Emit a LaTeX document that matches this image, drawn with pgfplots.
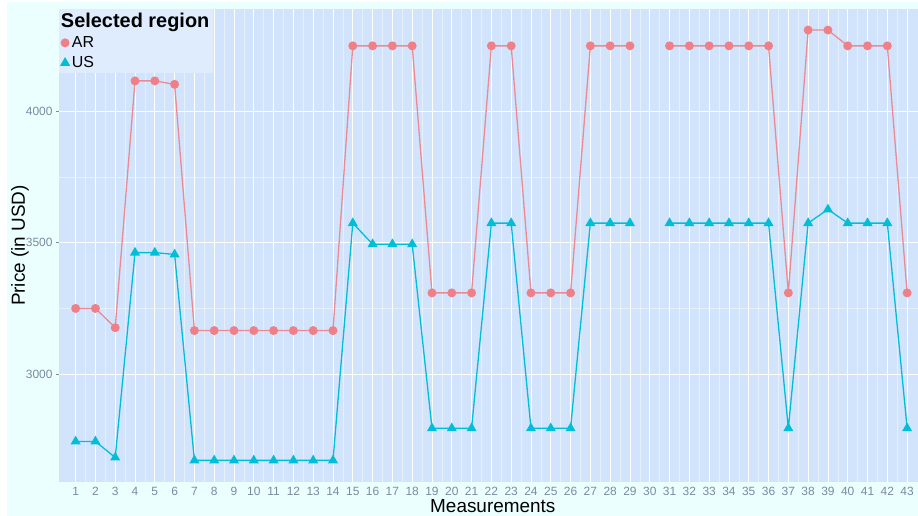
\documentclass[border=0pt]{standalone}
\usepackage{fontspec}
\setmainfont{Liberation Sans}
\usepackage{pgfplots}
\pgfplotsset{compat=1.18}
\usepackage{pgfplotstable}

\definecolor{outerbg}{RGB}{236,255,255}
\definecolor{panelbg}{RGB}{210,228,252}
\definecolor{legbg}{RGB}{222,236,253}
\definecolor{tickgray}{RGB}{125,138,158}
\definecolor{arcol}{RGB}{240,128,135}
\definecolor{arline}{RGB}{236,138,148}
\definecolor{uscol}{RGB}{0,190,214}

% price per measurement, 30 is missing
\pgfplotstableread{
x  ar   us
1  3250 2745
2  3250 2745
3  3177 2684
4  4114 3462
5  4114 3462
6  4101 3455
7  3166 2673
8  3166 2673
9  3166 2673
10 3166 2673
11 3166 2673
12 3166 2673
13 3166 2673
14 3166 2673
15 4247 3574
16 4247 3494
17 4247 3494
18 4247 3494
19 3309 2795
20 3309 2795
21 3309 2795
22 4247 3574
23 4247 3574
24 3309 2795
25 3309 2795
26 3309 2795
27 4247 3574
28 4247 3574
29 4247 3574
30 nan  nan
31 4247 3574
32 4247 3574
33 4247 3574
34 4247 3574
35 4247 3574
36 4247 3574
37 3309 2795
38 4307 3574
39 4307 3626
40 4247 3574
41 4247 3574
42 4247 3574
43 3309 2795
}\prices

\begin{document}
\begin{tikzpicture}[x=1bp,y=1bp]
\path[use as bounding box, fill=white] (0,0) rectangle (918,516);
\fill[outerbg] (7,0) rectangle (918,514);
\begin{axis}[
  at={(59bp,34bp)}, anchor=south west,
  scale only axis, width=859bp, height=473bp,
  xmin=0.16, xmax=43.55, ymin=2591, ymax=4387,
  axis background/.style={fill=panelbg},
  axis line style={draw=none},
  xtick={1,...,43}, ytick={3000,3500,4000},
  minor x tick num=1, minor y tick num=1,
  grid=both,
  major grid style={white, line width=0.8bp},
  minor grid style={white, opacity=0.45, line width=0.5bp},
  tick align=outside, major tick length=3bp, minor tick length=0pt,
  tick style={tickgray, line width=0.5bp},
  xtick style={draw=none},
  ticklabel style={font=\fontsize{12}{14}\selectfont, text=tickgray},
  xticklabel style={inner sep=1bp, yshift=-1bp},
  /pgf/number format/assume math mode=true,
  scaled y ticks=false,
  yticklabel style={/pgf/number format/1000 sep={}},
  xlabel=Measurements, ylabel={Price (in USD)},
  label style={font=\fontsize{19}{22}\selectfont},
  xlabel style={at={(axis description cs:0.505,-0.051)}, anchor=center, inner sep=0pt},
  ylabel style={at={(axis description cs:-0.0455,0.5)}, anchor=center},
  unbounded coords=jump,
  legend cell align=left,
  legend style={at={(axis description cs:0,1)}, anchor=north west,
    fill=legbg, draw=none, font=\fontsize{16}{18}\selectfont,
    inner sep=2bp, row sep=3.5bp, column sep=1bp},
  legend image code/.code={\draw[#1] plot coordinates {(3bp,0bp)};},
]
\addlegendimage{empty legend}
\addlegendentry{\hspace*{-11bp}\fontsize{20}{22}\selectfont\bfseries Selected region}
\addplot[arline, line width=1.3bp, mark=*, mark size=3.8bp,
  mark options={fill=arcol, draw=arcol}] table[x=x, y=ar] {\prices};
\addlegendentry{AR}
\addplot[uscol, line width=1.3bp, mark=triangle*, mark size=4.5bp,
  mark options={fill=uscol, draw=uscol}] table[x=x, y=us] {\prices};
\addlegendentry{US}
\end{axis}
\end{tikzpicture}
\end{document}
